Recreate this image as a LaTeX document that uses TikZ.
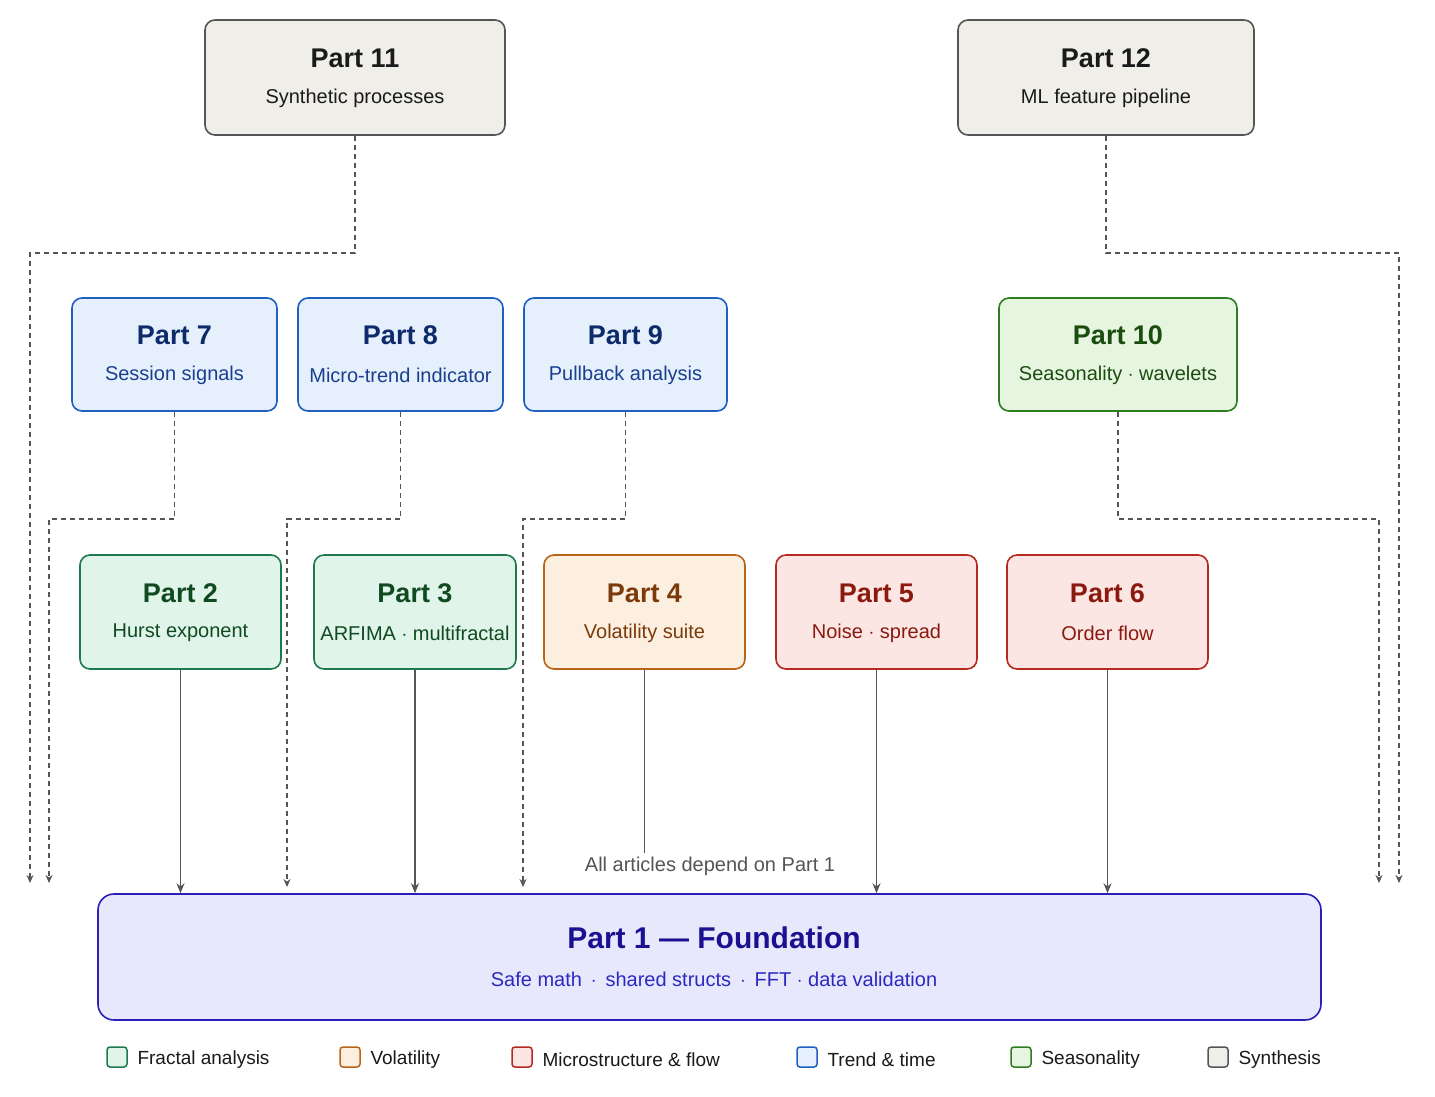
\documentclass[tikz,border=0pt]{standalone}
\usepackage{fontspec}
\setmainfont{Liberation Sans}
\usetikzlibrary{arrows.meta}
\definecolor{gfill}{HTML}{F0EEE8}\definecolor{gdraw}{HTML}{555555}\definecolor{gtext}{HTML}{1A1A1A}
\definecolor{bfill}{HTML}{E6F0FC}\definecolor{bdraw}{HTML}{1F5FBF}\definecolor{btext}{HTML}{0D2A6B}\definecolor{bsub}{HTML}{1A3F8F}
\definecolor{sfill}{HTML}{E6F5E0}\definecolor{sdraw}{HTML}{2E7D1E}\definecolor{stext}{HTML}{1B4D0F}
\definecolor{ffill}{HTML}{E0F4EA}\definecolor{fdraw}{HTML}{1E7A4E}\definecolor{ftext}{HTML}{0F4A20}
\definecolor{ofill}{HTML}{FDEFE0}\definecolor{odraw}{HTML}{B8651A}\definecolor{otext}{HTML}{7A3A0A}
\definecolor{rfill}{HTML}{FCE6E3}\definecolor{rdraw}{HTML}{B52A20}\definecolor{rtext}{HTML}{8A1A10}
\definecolor{pfill}{HTML}{E8E8FC}\definecolor{pdraw}{HTML}{2A1FB8}\definecolor{ptext}{HTML}{1A1090}\definecolor{psub}{HTML}{2A2AC0}
\definecolor{conn}{HTML}{555555}
\begin{document}
\begin{tikzpicture}[x=1pt,y=-1pt,
  box/.style={rounded corners=10pt,line width=1.6pt,align=center,inner sep=0pt},
  ttl/.style={font=\fontsize{27}{30}\selectfont\bfseries},
  sub/.style={font=\fontsize{20}{24}\selectfont},
  dep/.style={conn,line width=1.3pt,dashed,dash pattern=on 5pt off 4pt,-{Stealth[length=8pt,width=7pt,open]}},
  sol/.style={conn,line width=1.3pt,-{Stealth[length=10pt,width=8pt]}},
  leg/.style={rounded corners=3pt,line width=1.5pt,minimum size=20pt,inner sep=0pt}]
\useasboundingbox (0,0) rectangle (1435,1096);
\fill[white] (0,0) rectangle (1435,1096);
\newcommand{\mkbox}[9]{%
  \node[box,draw=#6,fill=#7,minimum width=#4pt,minimum height=#5pt] (#1) at (#2,#3) {};
  \node[ttl,text=#8] at (#2,#3-19) {#9};}
% args: name,x,y,w,h,draw,fill,textcolor,title ; subtitle separately
\newcommand{\subt}[4]{\node[sub,text=#3] at (#1,#2+21) {#4};}
\mkbox{p11}{355}{77.5}{300}{115}{gdraw}{gfill}{gtext}{Part 11}\subt{355}{77.5}{gtext}{Synthetic processes}
\mkbox{p12}{1106}{77.5}{296}{115}{gdraw}{gfill}{gtext}{Part 12}\subt{1106}{77.5}{gtext}{ML feature pipeline}
\mkbox{p7}{174.5}{354.5}{205}{113}{bdraw}{bfill}{btext}{Part 7}\subt{174.5}{354.5}{bsub}{Session signals}
\mkbox{p8}{400.5}{354.5}{205}{113}{bdraw}{bfill}{btext}{Part 8}\subt{400.5}{354.5}{bsub}{Micro-trend indicator}
\mkbox{p9}{625.5}{354.5}{203}{113}{bdraw}{bfill}{btext}{Part 9}\subt{625.5}{354.5}{bsub}{Pullback analysis}
\mkbox{p10}{1118}{354.5}{238}{113}{sdraw}{sfill}{stext}{Part 10}\subt{1118}{354.5}{stext}{Seasonality $\cdot$ wavelets}
\mkbox{p2}{180.5}{612}{201}{114}{fdraw}{ffill}{ftext}{Part 2}\subt{180.5}{612}{ftext}{Hurst exponent}
\mkbox{p3}{415}{612}{202}{114}{fdraw}{ffill}{ftext}{Part 3}\subt{415}{612}{ftext}{ARFIMA $\cdot$ multifractal}
\mkbox{p4}{644.5}{612}{201}{114}{odraw}{ofill}{otext}{Part 4}\subt{644.5}{612}{otext}{Volatility suite}
\mkbox{p5}{876.5}{612}{201}{114}{rdraw}{rfill}{rtext}{Part 5}\subt{876.5}{612}{rtext}{Noise $\cdot$ spread}
\mkbox{p6}{1107.5}{612}{201}{114}{rdraw}{rfill}{rtext}{Part 6}\subt{1107.5}{612}{rtext}{Order flow}
\node[box,draw=pdraw,fill=pfill,minimum width=1223pt,minimum height=126pt,rounded corners=16pt] (p1) at (709.5,957) {};
\node[ttl,text=ptext,font=\fontsize{30}{34}\selectfont\bfseries] at (714,938) {Part 1 --- Foundation};
\node[sub,text=psub] at (714,979) {Safe math \,$\cdot$\, shared structs \,$\cdot$\, FFT $\cdot$ data validation};
\node[sub,text=gdraw] (note) at (710,866) {All articles depend on Part 1};
% dashed dependencies
\coordinate (e11) at (30,883);\coordinate (e7) at (49,883);\coordinate (e8) at (287,887);\coordinate (e9) at (523,887);
\coordinate (e10) at (1379,883);\coordinate (e12) at (1399,883);
\draw[dep] (p11.south) |- (30,253) -- (e11);
\draw[dep] (p12.south) |- (1399,253) -- (e12);
\draw[dep] (p7.south) |- (49,519) -- (e7);
\draw[dep] (p8.south) |- (287,519) -- (e8);
\draw[dep] (p9.south) |- (523,519) -- (e9);
\draw[dep] (p10.south) |- (1379,519) -- (e10);
% solid
\draw[sol] (p2.south) -- (p2.south |- p1.north);
\draw[sol] (p3.south) -- (p3.south |- p1.north);
\draw[conn,line width=1.3pt] (p4.south) -- (note.north -| p4.south);
\draw[sol] (p5.south) -- (p5.south |- p1.north);
\draw[sol] (p6.south) -- (p6.south |- p1.north);
% legend
\foreach \x/\d/\f/\t [count=\i] in {117/fdraw/ffill/Fractal analysis,350/odraw/ofill/Volatility,522/rdraw/rfill/Microstructure \& flow,807/bdraw/bfill/Trend \& time,1021/sdraw/sfill/Seasonality,1218/gdraw/gfill/Synthesis}{
  \node[leg,draw=\d,fill=\f] (l\i) at (\x,1057) {};
  \node[anchor=west,font=\fontsize{19}{22}\selectfont,text=gtext] at (\x+17,1060) {\t};}
\end{tikzpicture}
\end{document}
